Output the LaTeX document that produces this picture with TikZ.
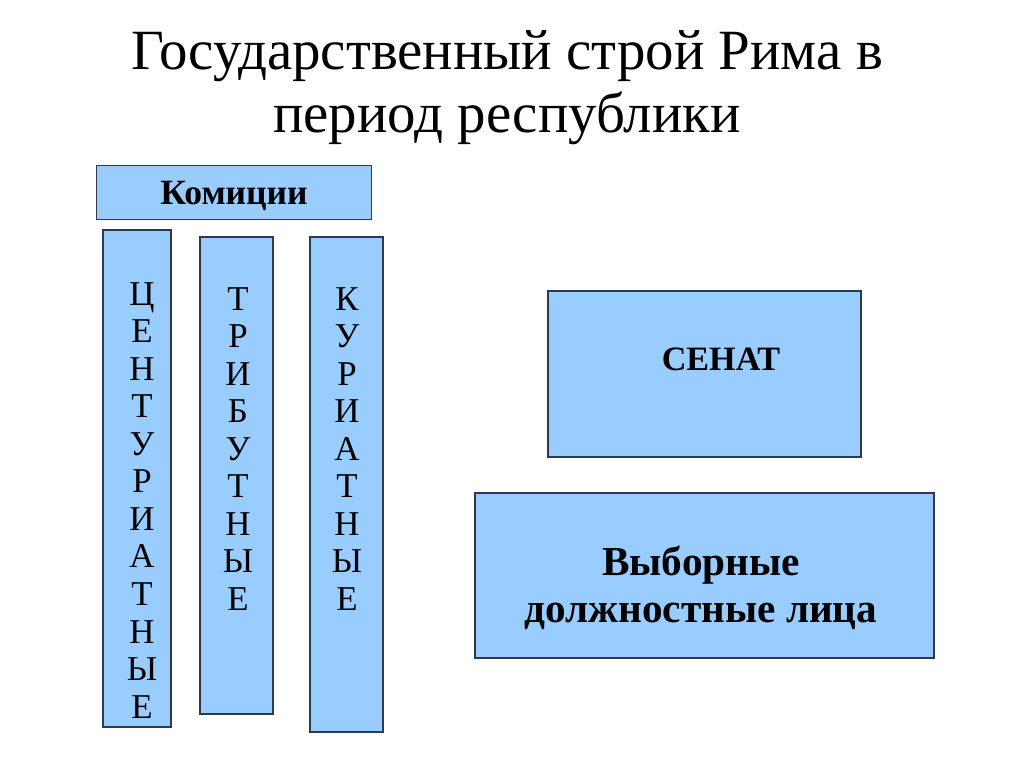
\documentclass[tikz,border=0pt]{standalone}
\usepackage{fontspec}
\setmainfont{Liberation Serif}
\usetikzlibrary{positioning}

\newdimen\px
\px=0.703125pt

\definecolor{boxfill}{HTML}{99CCFF}
\definecolor{boxline}{HTML}{2E3A4C}

\tikzset{
	box/.style={draw=boxline, fill=boxfill, line width=0.9pt, inner sep=0pt},
	letters/.style={align=center, inner sep=0pt, anchor=north, font=\fontsize{24.5}{26.4}\selectfont},
	boxtext/.style={inner sep=0pt, anchor=base, font=\fontsize{24}{30}\selectfont\bfseries},
}

\begin{document}
\begin{tikzpicture}[x=\px, y=-\px]
\useasboundingbox (0,0) rectangle (1024,767);

% title
\node[align=center, inner sep=0pt, anchor=base, font=\fontsize{40}{44.3}\selectfont] (title) at (507,133)
	{Государственный строй Рима в\\период республики};

% comitia
\node[box, minimum width=275*\px, minimum height=54*\px] (komicii) at (234,192.5) {};
\node[boxtext, font=\fontsize{25}{30}\selectfont\bfseries] (komiciitext) at (234,205) {Комиции};

\node[box, minimum width=68*\px, minimum height=497*\px] (cent) at (137,478.5) {};
\node[box, minimum width=73*\px, minimum height=477*\px] (trib) at (236.5,475.5) {};
\node[box, minimum width=73*\px, minimum height=495*\px] (kur) at (346.5,484.5) {};

\node[letters] (centtext) at (142,282) {Ц\\Е\\Н\\Т\\У\\Р\\И\\А\\Т\\Н\\Ы\\Е};
\node[letters] (tribtext) at (238,287) {Т\\Р\\И\\Б\\У\\Т\\Н\\Ы\\Е};
\node[letters] (kurtext) at (347,287) {К\\У\\Р\\И\\А\\Т\\Н\\Ы\\Е};

% senate and magistrates
\node[box, minimum width=313*\px, minimum height=166*\px] (senat) at (704.5,374) {};
\node[boxtext] (senattext) at (721,370) {СЕНАТ};

\node[box, minimum width=459*\px, minimum height=165*\px] (magistr) at (704.5,575.5) {};
\node[boxtext, align=center, font=\fontsize{29}{33}\selectfont\bfseries] (magistrtext) at (701,622)
	{Выборные\\должностные лица};
\end{tikzpicture}
\end{document}
